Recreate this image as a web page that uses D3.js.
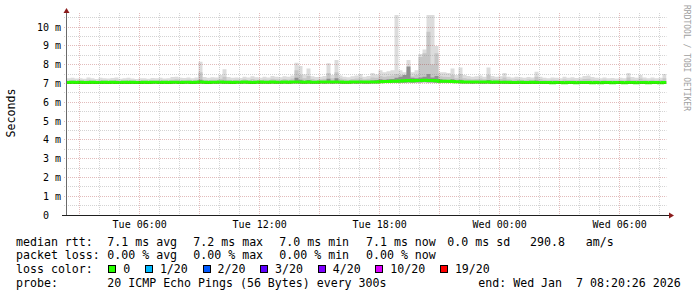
<!DOCTYPE html>
<html>
<head>
<meta charset="utf-8">
<title>Smokeping</title>
<script src="https://d3js.org/d3.v7.min.js"></script>
<style>
  body { margin: 0; background: #fff; }
  text { font-family: "DejaVu Sans Mono", monospace; white-space: pre; }
</style>
</head>
<body>
<div id="chart"></div>
<script>
// graph window: 30 hours ending at the probe time, one column per 12 minutes
var startTime = new Date(2026, 0, 6, 2, 20, 26);
var endTime = new Date(2026, 0, 7, 8, 20, 26);
var stepMinutes = 12;

// ms values per column
var smokeMin = [
  7.00,7.01,7.00,7.00,7.01,7.00,6.99,7.00,7.01,7.00,
  7.00,7.01,7.00,7.00,7.00,7.01,7.00,6.99,7.00,7.01,
  7.00,7.00,7.01,7.00,7.01,7.00,7.00,7.01,7.00,7.00,
  7.01,7.00,7.00,7.01,7.00,7.00,7.01,7.00,7.01,7.00,
  7.00,7.00,7.01,7.00,7.01,7.00,7.00,7.01,7.00,7.01,
  7.00,7.01,7.00,7.00,7.01,7.00,7.01,7.01,7.00,7.00,
  7.01,7.00,7.00,7.01,7.00,7.01,7.00,7.01,7.00,7.00,
  7.00,7.01,7.00,7.01,7.00,7.00,7.01,7.01,7.02,7.02,
  7.02,7.03,7.03,7.04,7.04,7.05,7.04,7.05,7.05,7.06,
  7.05,7.05,7.04,7.03,7.03,7.02,7.02,7.02,7.01,7.01,
  7.01,7.00,7.01,7.00,7.00,7.01,7.00,7.00,7.01,7.00,
  7.00,7.00,7.01,7.00,7.00,6.99,7.00,7.00,7.00,6.99,
  7.00,6.99,7.00,7.00,6.99,7.00,7.00,6.99,7.00,7.00,
  6.99,7.00,7.00,6.99,7.00,7.00,6.99,7.00,7.00,6.99,
  7.00,7.00,6.99,7.00,7.00,6.99,7.00,7.00,6.99,7.00
];
var smokeHi = [
  7.27,7.30,7.26,7.28,7.25,7.31,7.27,7.24,7.30,7.28,
  7.26,7.29,7.31,7.25,7.27,7.30,7.26,7.24,7.28,7.27,
  7.25,7.29,7.27,7.30,7.26,7.28,7.34,7.36,7.30,7.29,
  7.31,7.28,7.32,8.15,7.34,7.30,7.33,7.31,7.45,7.75,
  7.34,7.30,7.32,7.29,7.36,7.31,7.38,7.33,7.30,7.35,
  7.32,7.40,7.36,7.33,7.38,7.35,7.42,8.10,7.93,7.48,
  7.80,7.38,7.34,7.36,7.40,8.07,7.45,8.24,7.42,7.36,
  7.33,7.38,7.42,7.50,7.36,7.40,7.55,7.48,7.70,7.60,
  7.65,7.70,10.70,7.70,7.60,8.24,7.60,7.70,8.56,8.80,
  10.70,10.70,8.99,7.60,7.60,7.55,7.80,7.45,7.85,7.45,
  7.40,7.35,7.38,7.42,7.36,7.85,7.40,7.36,7.38,7.55,
  7.35,7.32,7.36,7.33,7.30,7.34,7.31,7.62,7.36,7.30,
  7.28,7.32,7.30,7.27,7.36,7.30,7.33,7.29,7.31,7.40,
  7.42,7.34,7.30,7.28,7.31,7.27,7.29,7.26,7.30,7.28,
  7.55,7.34,7.30,7.45,7.32,7.28,7.31,7.27,7.30,7.50
];
var smokeMid = [
  7.16,7.18,7.15,7.17,7.15,7.19,7.16,7.14,7.18,7.17,
  7.15,7.17,7.19,7.15,7.16,7.18,7.15,7.14,7.17,7.16,
  7.15,7.17,7.16,7.18,7.15,7.17,7.20,7.22,7.18,7.17,
  7.19,7.17,7.19,7.60,7.20,7.18,7.20,7.19,7.25,7.35,
  7.20,7.18,7.19,7.17,7.22,7.18,7.24,7.20,7.18,7.21,
  7.19,7.25,7.22,7.20,7.24,7.21,7.26,7.70,7.45,7.28,
  7.40,7.24,7.20,7.22,7.25,7.55,7.28,7.60,7.26,7.22,
  7.20,7.23,7.26,7.30,7.22,7.25,7.32,7.30,7.40,7.35,
  7.38,7.42,7.50,7.45,7.40,7.70,7.38,7.45,8.40,8.60,
  9.75,8.00,8.60,7.38,7.36,7.34,7.45,7.28,7.50,7.28,
  7.25,7.22,7.24,7.26,7.22,7.45,7.25,7.22,7.24,7.32,
  7.22,7.20,7.22,7.20,7.18,7.21,7.19,7.35,7.22,7.18,
  7.17,7.19,7.18,7.16,7.21,7.18,7.20,7.17,7.19,7.24,
  7.25,7.20,7.18,7.17,7.19,7.16,7.17,7.15,7.18,7.17,
  7.32,7.20,7.18,7.26,7.19,7.17,7.19,7.16,7.18,7.28
];
var smokeCore = [
  7.08,7.09,7.08,7.09,7.08,7.08,7.09,7.08,7.08,7.09,
  7.08,7.09,7.08,7.08,7.09,7.08,7.09,7.08,7.08,7.09,
  7.08,7.09,7.09,7.08,7.09,7.08,7.10,7.10,7.08,7.09,
  7.09,7.08,7.09,7.20,7.09,7.08,7.09,7.09,7.12,7.14,
  7.09,7.08,7.09,7.09,7.11,7.09,7.10,7.09,7.10,7.09,
  7.09,7.12,7.10,7.09,7.11,7.10,7.12,7.30,7.20,7.12,
  7.18,7.10,7.09,7.10,7.12,7.25,7.12,7.28,7.11,7.10,
  7.10,7.11,7.12,7.14,7.11,7.12,7.16,7.18,7.22,7.20,
  7.22,7.24,7.30,7.35,7.45,7.90,7.30,7.28,7.32,7.36,
  7.50,7.32,7.40,7.22,7.20,7.18,7.22,7.14,7.20,7.13,
  7.12,7.10,7.11,7.12,7.10,7.18,7.10,7.10,7.10,7.14,
  7.09,7.08,7.09,7.09,7.08,7.09,7.09,7.15,7.09,7.08,
  7.08,7.08,7.08,7.08,7.09,7.08,7.08,7.08,7.08,7.10,
  7.10,7.08,7.08,7.07,7.08,7.08,7.07,7.08,7.08,7.07,
  7.14,7.08,7.07,7.10,7.08,7.07,7.08,7.08,7.07,7.12
];
var median = [
  7.05,7.06,7.05,7.06,7.05,7.05,7.06,7.05,7.05,7.06,
  7.05,7.06,7.05,7.05,7.06,7.05,7.06,7.05,7.05,7.06,
  7.05,7.06,7.06,7.05,7.06,7.05,7.06,7.06,7.05,7.06,
  7.06,7.05,7.06,7.07,7.06,7.05,7.06,7.06,7.07,7.06,
  7.06,7.05,7.06,7.06,7.07,7.06,7.05,7.06,7.07,7.06,
  7.06,7.07,7.06,7.06,7.07,7.06,7.07,7.08,7.07,7.06,
  7.07,7.06,7.06,7.07,7.07,7.08,7.07,7.08,7.07,7.06,
  7.06,7.07,7.07,7.08,7.07,7.07,7.08,7.08,7.09,7.10,
  7.10,7.11,7.12,7.13,7.14,7.16,7.14,7.15,7.16,7.17,
  7.16,7.15,7.14,7.12,7.11,7.11,7.10,7.09,7.09,7.08,
  7.08,7.07,7.07,7.08,7.07,7.07,7.06,7.07,7.06,7.06,
  7.06,7.05,7.05,7.06,7.05,7.05,7.06,7.05,7.05,7.05,
  7.05,7.04,7.05,7.05,7.04,7.05,7.05,7.04,7.05,7.05,
  7.05,7.04,7.05,7.04,7.05,7.05,7.04,7.05,7.05,7.04,
  7.05,7.05,7.04,7.05,7.05,7.04,7.05,7.05,7.04,7.05
];

var yTicks = [0, 1, 2, 3, 4, 5, 6, 7, 8, 9, 10];
var yTickLabels = ['0  ', '1 m', '2 m', '3 m', '4 m', '5 m', '6 m', '7 m', '8 m', '9 m', '10 m'];
var xTickTimes = [new Date(2026, 0, 6, 6), new Date(2026, 0, 6, 12), new Date(2026, 0, 6, 18),
                  new Date(2026, 0, 7, 0), new Date(2026, 0, 7, 6)];
var xTickLabels = ['Tue 06:00', 'Tue 12:00', 'Tue 18:00', 'Wed 00:00', 'Wed 06:00'];

var lossLabels = ['0', '1/20', '2/20', '3/20', '4/20', '10/20', '19/20'];
var lossColors = ['#26ff00', '#00b8ff', '#0059ff', '#5e00ff', '#7e00ff', '#dd00ff', '#ff0000'];

var legendRows = [
  [['median rtt:', 16], ['7.1 ms avg', 107.3], ['7.2 ms max', 193.3], ['7.0 ms min', 279.3],
   ['7.1 ms now', 366], ['0.0 ms sd', 447.3], ['290.8   am/s', 530]],
  [['packet loss:', 16], ['0.00 % avg', 107.3], ['0.00 % max', 193.3], ['0.00 % min', 279.3],
   ['0.00 % now', 366]],
  [['loss color:', 16]],
  [['probe:', 16], ['20 ICMP Echo Pings (56 Bytes) every 300s', 107.3],
   ['end: Wed Jan  7 08:20:26 2026', 478.3]]
];

var width = 697, height = 297;
var plot = {left: 66.5, right: 666.5, top: 15, bottom: 215};
var fontLegend = 11.6, charW = 7.0;

var svg = d3.select('#chart').append('svg')
  .attr('width', width)
  .attr('height', height)
  .style('display', 'block');
svg.append('rect').attr('width', width).attr('height', height).attr('fill', '#fff');

var x = d3.scaleTime().domain([startTime, endTime]).range([plot.left, plot.right]);
var y = d3.scaleLinear().domain([0, 10.64]).range([plot.bottom, plot.top]);
function crisp(v) { return Math.floor(v) + 0.5; }

var cols = median.map(function(m, i) {
  return {t: d3.timeMinute.offset(startTime, i * stepMinutes),
          lo: smokeMin[i], hi: smokeHi[i], mid: smokeMid[i], core: smokeCore[i], med: m};
});
cols.push(Object.assign({}, cols[cols.length - 1], {t: endTime}));

svg.append('clipPath').attr('id', 'plotclip')
  .append('rect')
  .attr('x', plot.left).attr('y', plot.top)
  .attr('width', plot.right - plot.left).attr('height', plot.bottom - plot.top);

var gData = svg.append('g').attr('clip-path', 'url(#plotclip)');

function smoke(key) {
  return d3.area()
    .curve(d3.curveStepAfter)
    .x(d => x(d.t))
    .y0(d => y(d.lo))
    .y1(d => y(d[key]));
}
gData.append('path').datum(cols).attr('d', smoke('hi')).attr('fill', '#dcdcdc');
gData.append('path').datum(cols).attr('d', smoke('mid')).attr('fill', '#c6c6c6');
gData.append('path').datum(cols).attr('d', smoke('core')).attr('fill', '#909090');

gData.append('path').datum(cols)
  .attr('d', d3.line().curve(d3.curveStepAfter).x(d => x(d.t)).y(d => y(d.med)))
  .attr('fill', 'none')
  .attr('stroke', lossColors[0])
  .attr('stroke-width', 3);

// grid, drawn over the data like rrdtool does
var minorCol = 'rgba(140,140,140,0.38)', majorCol = 'rgba(160,30,30,0.3)';
var gGrid = svg.append('g').attr('stroke-dasharray', '1,1').attr('stroke-width', 1);
d3.range(0.5, 10.6, 0.5).filter(v => v % 1 !== 0).forEach(function(v) {
  gGrid.append('line')
    .attr('x1', 64).attr('x2', plot.right)
    .attr('y1', crisp(y(v))).attr('y2', crisp(y(v)))
    .attr('stroke', minorCol);
});
d3.timeHour.range(startTime, endTime).forEach(function(t) {
  var major = t.getHours() % 3 === 0;
  gGrid.append('line')
    .attr('x1', crisp(x(t))).attr('x2', crisp(x(t)))
    .attr('y1', 13).attr('y2', 217)
    .attr('stroke', major ? majorCol : minorCol);
});
yTicks.slice(1).forEach(function(v) {
  gGrid.append('line')
    .attr('x1', 64).attr('x2', plot.right)
    .attr('y1', crisp(y(v))).attr('y2', crisp(y(v)))
    .attr('stroke', majorCol);
});

// axes
svg.append('line')
  .attr('x1', 66.5).attr('x2', 66.5).attr('y1', 12).attr('y2', 215)
  .attr('stroke', '#6a6a6a');
svg.append('line')
  .attr('x1', 62).attr('x2', 670).attr('y1', 215.5).attr('y2', 215.5)
  .attr('stroke', '#1f1f1f');
svg.append('path').attr('d', 'M66.5,8 L69.5,13 L63.5,13 Z').attr('fill', '#8b1c1c');
svg.append('path').attr('d', 'M674,215.5 L669,212.5 L669,218.5 Z').attr('fill', '#8b1c1c');

// tick labels
svg.selectAll('.ylab').data(yTicks).enter().append('text')
  .attr('class', 'ylab')
  .attr('x', 61)
  .attr('y', d => y(d))
  .attr('dy', '0.35em')
  .attr('text-anchor', 'end')
  .style('font-size', '10px')
  .text((d, i) => yTickLabels[i]);

svg.selectAll('.xlab').data(xTickTimes).enter().append('text')
  .attr('class', 'xlab')
  .attr('x', d => x(d))
  .attr('y', 228)
  .attr('text-anchor', 'middle')
  .style('font-size', '10px')
  .text((d, i) => xTickLabels[i]);

svg.append('text')
  .attr('transform', 'translate(11,113) rotate(-90)')
  .attr('text-anchor', 'middle')
  .attr('dominant-baseline', 'central')
  .style('font-size', fontLegend + 'px')
  .text('Seconds');

svg.append('text')
  .attr('transform', 'translate(686.5,5) rotate(90)')
  .attr('dominant-baseline', 'central')
  .style('font-size', '8px')
  .attr('fill', '#a0a0a0')
  .text('RRDTOOL / TOBI OETIKER');

// legend
var rowY = [245.7, 259.4, 273.1, 286.8];
legendRows.forEach(function(row, r) {
  row.forEach(function(item) {
    svg.append('text')
      .attr('x', item[1])
      .attr('y', rowY[r])
      .style('font-size', fontLegend + 'px')
      .text(item[0]);
  });
});

var bx = 108.3;
lossLabels.forEach(function(lab, i) {
  svg.append('rect')
    .attr('x', Math.round(bx) + 0.5).attr('y', 265.5)
    .attr('width', 7).attr('height', 7)
    .attr('fill', lossColors[i])
    .attr('stroke', '#000');
  svg.append('text')
    .attr('x', bx + 15)
    .attr('y', rowY[2])
    .style('font-size', fontLegend + 'px')
    .text(lab);
  bx = bx + 15 + lab.length * charW + 14.6;
});
</script>
</body>
</html>
